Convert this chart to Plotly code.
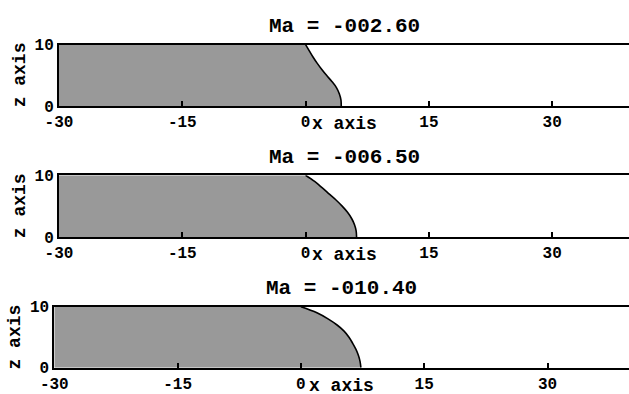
import plotly.graph_objects as go

# ---- data ----
titles = ["Ma = -002.60", "Ma = -006.50", "Ma = -010.40"]
z_levels = [10, 9, 8, 7, 6, 5, 4, 3, 2, 1, 0]
x_interface_1 = [0.0, 0.45, 0.9, 1.4, 1.95, 2.55, 3.2, 3.75, 4.1, 4.3, 4.34]
x_interface_2 = [0.0, 1.1, 2.0, 2.85, 3.7, 4.45, 5.1, 5.6, 5.95, 6.15, 6.2]
x_interface_3 = [0.0, 1.95, 3.3, 4.4, 5.25, 5.85, 6.3, 6.7, 7.0, 7.2, 7.3]
interfaces = [x_interface_1, x_interface_2, x_interface_3]
x_left = -30
x_ticks = [-30, -15, 0, 15, 30]
z_ticks = [0, 10]

W, H = 629, 394
FONT = "Liberation Mono"

# pixel geometry of each panel: (left, top, bottom)
panels = [(59, 44.7, 106.0), (59, 175.3, 237.0), (54.3, 306.7, 367.7)]
px_per_unit = 8.22

fig = go.Figure()
layout = dict(width=W, height=H, margin=dict(l=0, r=0, t=0, b=0, autoexpand=False),
              paper_bgcolor="white", plot_bgcolor="white", showlegend=False,
              annotations=[])

for i, (title, xi) in enumerate(zip(titles, interfaces)):
    sfx = "" if i == 0 else str(i + 1)
    left, top, bot = panels[i]
    xr = [x_left, x_left + (W - left) / px_per_unit]
    # filled region
    px = [x_left, x_left] + xi + [x_left]
    pz = [0, 10] + z_levels + [0]
    fig.add_trace(go.Scatter(x=px, y=pz, mode="lines", fill="toself",
                             fillcolor="#999999", line=dict(width=0, color="#999999"),
                             hoverinfo="skip", xaxis="x" + sfx, yaxis="y" + sfx))
    fig.add_trace(go.Scatter(x=xi, y=z_levels, mode="lines",
                             line=dict(color="black", width=1.6, shape="spline"),
                             xaxis="x" + sfx, yaxis="y" + sfx))
    layout["xaxis" + sfx] = dict(
        domain=[left / W, 1.0], range=xr, anchor="y" + sfx, automargin=False,
        showline=True, linecolor="black", linewidth=2, mirror=True,
        ticks="inside", ticklen=5, tickwidth=1.5, tickcolor="black",
        tickvals=x_ticks, ticktext=[str(t) for t in x_ticks],
        tickfont=dict(family=FONT, size=16, color="black", weight="bold"),
        showgrid=False, zeroline=False)
    layout["yaxis" + sfx] = dict(
        domain=[1 - bot / H, 1 - top / H], range=[0, 10], anchor="x" + sfx,
        automargin=False,
        showline=True, linecolor="black", linewidth=2,
        ticks="", tickvals=z_ticks, ticktext=[str(t) for t in z_ticks],
        tickfont=dict(family=FONT, size=16, color="black", weight="bold"),
        showgrid=False, zeroline=False)
    cx = (left + W) / 2 / W
    layout["annotations"].append(dict(
        text=title, x=cx, y=1 - (top - 18) / H, xref="paper", yref="paper",
        xanchor="center", yanchor="middle", showarrow=False,
        font=dict(family=FONT, size=21, color="black", weight="bold")))
    layout["annotations"].append(dict(
        text="x axis", x=cx, y=1 - (bot + 18) / H, xref="paper", yref="paper",
        xanchor="center", yanchor="middle", showarrow=False,
        font=dict(family=FONT, size=18, color="black", weight="bold")))
    layout["annotations"].append(dict(
        text="z axis", x=(left - 39) / W, y=1 - (top + bot) / 2 / H,
        xref="paper", yref="paper", textangle=-90,
        xanchor="center", yanchor="middle", showarrow=False,
        font=dict(family=FONT, size=18, color="black", weight="bold")))

fig.update_layout(**layout)
fig.write_html("out.html")
